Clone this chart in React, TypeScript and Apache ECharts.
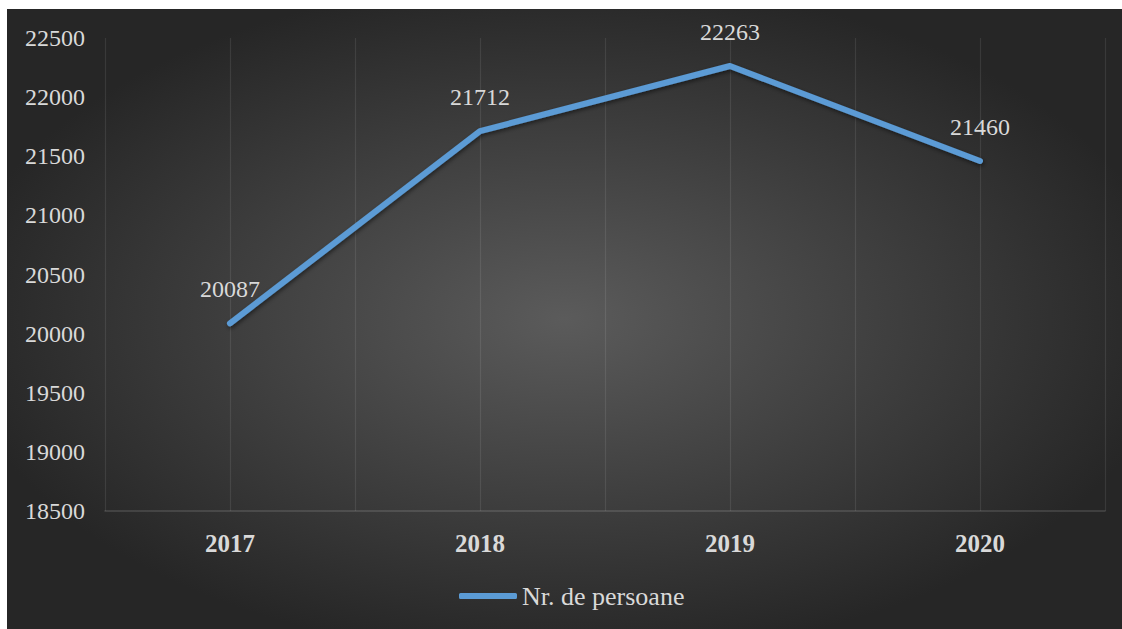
import React, { useEffect, useRef } from "react";
import * as echarts from "echarts";

const years = ["2017", "2018", "2019", "2020"];
const persons = [20087, 21712, 22263, 21460];
const seriesName = "Nr. de persoane";
const yMin = 18500;
const yMax = 22500;
const yStep = 500;

const FONT = "Liberation Serif";
const TXT = "#d9d9d9";

export default function App() {
  const ref = useRef<HTMLDivElement>(null);
  useEffect(() => {
    if (!ref.current) return;
    const chart = echarts.init(ref.current, undefined, { renderer: "svg" });
    chart.setOption({
      animation: false,
      textStyle: { fontFamily: FONT },
      backgroundColor: {
        type: "radial",
        x: 0.5,
        y: 0.5,
        r: 0.55,
        colorStops: [
          { offset: 0, color: "#5b5b5b" },
          { offset: 1, color: "#262626" },
        ],
      },
      grid: { left: 98, right: 17, top: 29, bottom: 118, containLabel: false },
      legend: {
        data: [seriesName],
        left: 452,
        top: 574,
        padding: 0,
        icon: "roundRect",
        itemWidth: 58,
        itemHeight: 6,
        itemStyle: { color: "#5b9bd5" },
        textStyle: { fontFamily: FONT, fontSize: 26, color: TXT },
      },
      xAxis: [
        {
          type: "category",
          data: years,
          boundaryGap: true,
          axisLine: { show: true, lineStyle: { color: "rgba(255,255,255,0.16)", width: 1.5 } },
          axisTick: { show: false },
          splitLine: { show: false },
          axisLabel: {
            fontFamily: FONT,
            fontSize: 25,
            fontWeight: "bold",
            color: TXT,
            margin: 20,
          },
        },
        {
          type: "value",
          min: 0,
          max: years.length * 2,
          interval: 1,
          position: "bottom",
          axisLine: { show: false },
          axisTick: { show: false },
          axisLabel: { show: false },
          splitLine: { show: true, lineStyle: { color: "rgba(255,255,255,0.09)", width: 1.2 } },
        },
      ],
      yAxis: {
        type: "value",
        min: yMin,
        max: yMax,
        interval: yStep,
        axisLine: { show: false },
        axisTick: { show: false },
        splitLine: { show: false },
        axisLabel: {
          fontFamily: FONT,
          fontSize: 24,
          color: TXT,
          margin: 20,
          formatter: (v: number) => String(v),
        },
      },
      series: [
        {
          name: seriesName,
          type: "line",
          xAxisIndex: 0,
          data: persons,
          symbol: "circle",
          symbolSize: 2,
          showSymbol: true,
          itemStyle: { color: "#5b9bd5" },
          lineStyle: {
            color: "#5b9bd5",
            width: 6,
            cap: "round",
            join: "round",
            shadowColor: "rgba(0,0,0,0.5)",
            shadowBlur: 4,
            shadowOffsetX: 1,
            shadowOffsetY: 2,
          },
          label: {
            show: true,
            position: "top",
            distance: 21,
            fontFamily: FONT,
            fontSize: 24,
            color: TXT,
          },
        },
      ],
    });
    return () => chart.dispose();
  }, []);
  return (
    <div
      ref={ref}
      style={{ position: "absolute", left: 7, top: 9, width: 1115, height: 620 }}
    />
  );
}
